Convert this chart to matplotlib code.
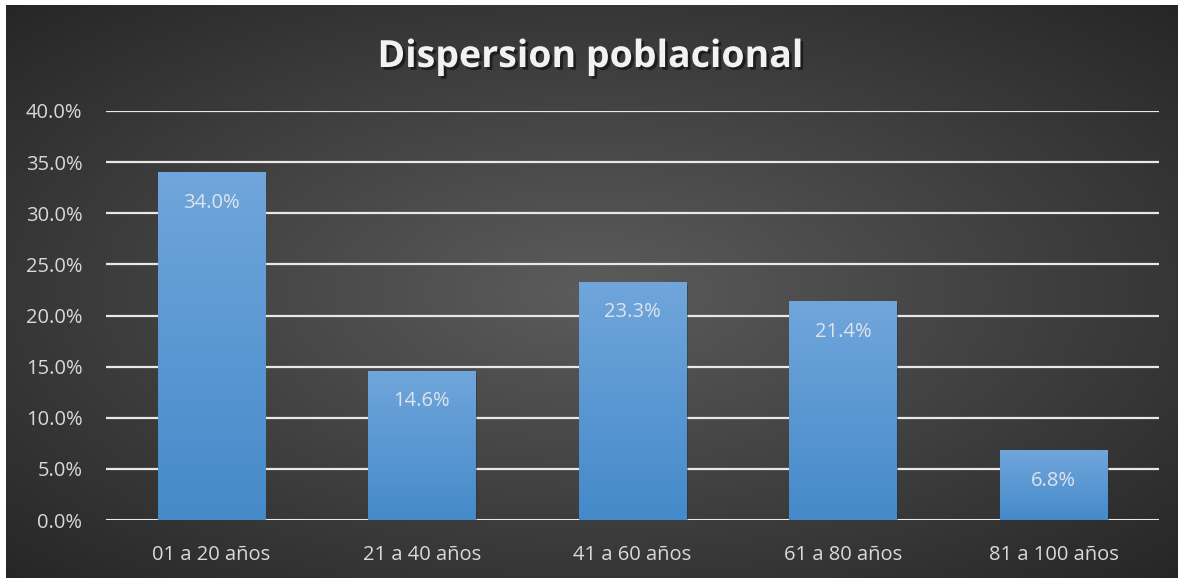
import numpy as np
import matplotlib.pyplot as plt
import matplotlib.patheffects as pe

categorias = ['01 a 20 años', '21 a 40 años', '41 a 60 años', '61 a 80 años', '81 a 100 años']
porcentajes = [34.0, 14.6, 23.3, 21.4, 6.8]
yticks = [0, 5, 10, 15, 20, 25, 30, 35, 40]

W, H = 1183, 580
fig = plt.figure(figsize=(W / 100, H / 100), dpi=100)
fig.patch.set_facecolor('white')

# fondo con degradado radial
bg = fig.add_axes([6 / W, 2 / H, 1172 / W, 573 / H])
yy, xx = np.mgrid[-1:1:300j, -1:1:600j]
r = np.sqrt(xx ** 2 + yy ** 2) / np.sqrt(2)
g = 0.36 - 0.21 * np.clip(r, 0, 1)
bg.imshow(np.dstack([g, g, g]), aspect='auto', extent=[0, 1, 0, 1])
bg.set_axis_off()

ax = fig.add_axes([106 / W, 60 / H, 1053 / W, 409 / H])
ax.patch.set_alpha(0)
x = np.arange(len(categorias))
ax.set_xlim(-0.5, len(categorias) - 0.5)
ax.set_ylim(0, 40)

for yv in yticks:
    ax.axhline(yv, color='#e8e8e8', lw=1.6 if yv else 2.2, zorder=1)

bars = ax.bar(x, porcentajes, width=0.51, color='#5b9bd5', zorder=3)
grad = np.linspace(0, 1, 256).reshape(-1, 1)
top_c = np.array([0.44, 0.65, 0.86])
bot_c = np.array([0.27, 0.54, 0.79])
img = grad[..., None] * top_c + (1 - grad[..., None]) * bot_c
for b, v in zip(bars, porcentajes):
    b.set_path_effects([pe.SimplePatchShadow(offset=(1, -2), alpha=0.4), pe.Normal()])
    x0 = b.get_x()
    im = ax.imshow(img, aspect='auto', origin='lower', zorder=4,
                   extent=[x0, x0 + b.get_width(), 0, v])
    im.set_clip_path(b)
    ax.text(b.get_x() + b.get_width() / 2, v - 3.0, f'{v:.1f}%', ha='center', va='center',
            color='#dfe3ea', fontsize=14.5, zorder=5, family='Open Sans')

ax.set_xlim(-0.5, len(categorias) - 0.5)
ax.set_ylim(0, 40)
ax.set_xticks(x)
ax.set_xticklabels(categorias, color='#d9d9d9', fontsize=14.5, family='Open Sans')
ax.set_yticks(yticks)
ax.set_yticklabels([f'{v:.1f}%' for v in yticks], color='#d9d9d9', fontsize=14.5, family='Open Sans')
ax.tick_params(length=0, axis='x', pad=18)
ax.tick_params(length=0, axis='y', pad=17)
for s in ax.spines.values():
    s.set_visible(False)

fig.text(590 / W, 1 - 57 / H, 'Dispersion poblacional', ha='center', va='center',
         color='#f2f2f2', fontsize=27, fontweight='bold', family='Open Sans',
         path_effects=[pe.withSimplePatchShadow(offset=(2, -2), shadow_rgbFace='black', alpha=0.5)])

fig.savefig('out.png', dpi=100)
